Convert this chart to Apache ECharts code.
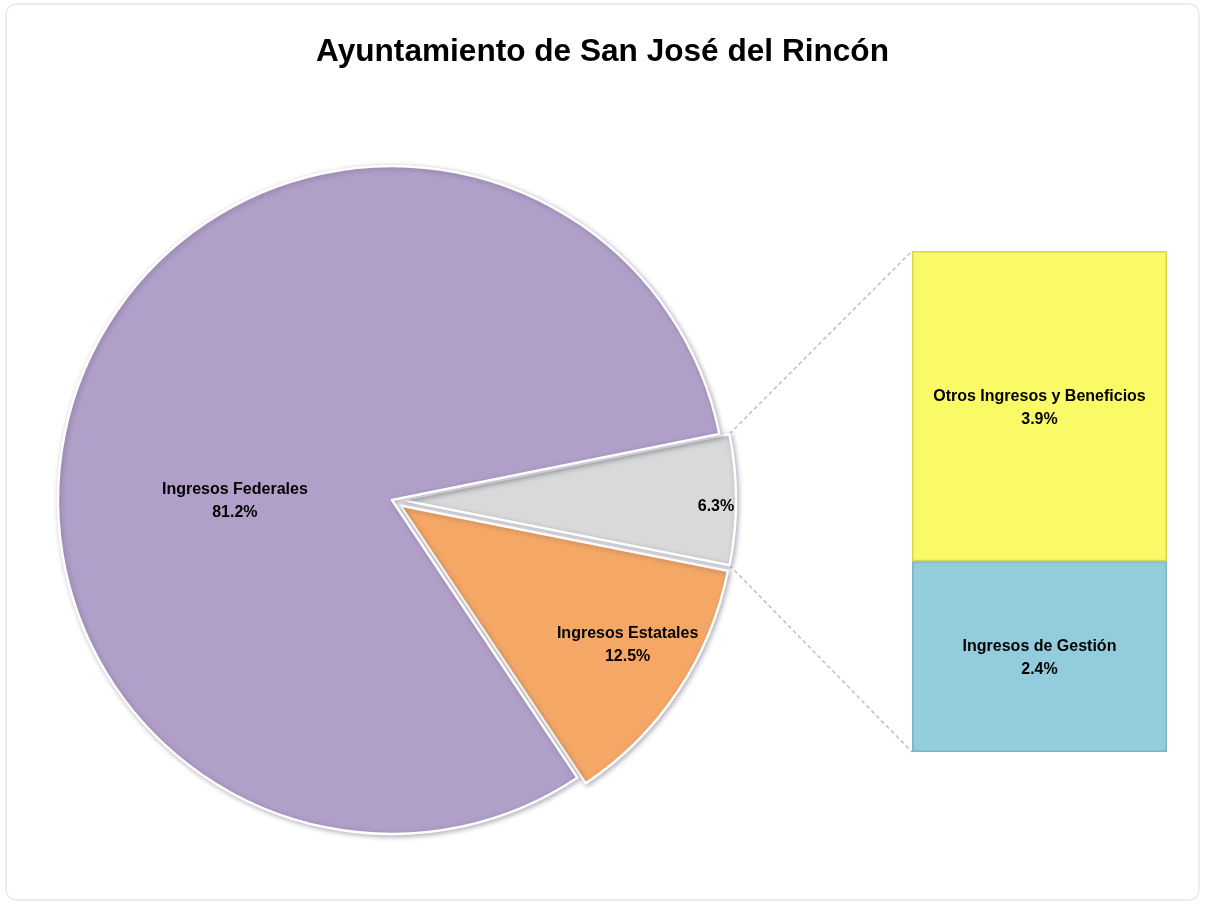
<!DOCTYPE html>
<html>
<head>
<meta charset="utf-8">
<script src="https://cdn.jsdelivr.net/npm/echarts@6/dist/echarts.min.js"></script>
<style>
  html, body { margin: 0; padding: 0; background: #ffffff; }
  #chart { width: 1205px; height: 905px; }
</style>
</head>
<body>
<div id="chart"></div>
<script>
// ---- Data ----
const chartTitle = 'Ayuntamiento de San José del Rincón';
const pieCategories = ['Ingresos Federales', 'Ingresos Estatales', 'Otros'];
const pieValues = [81.2, 12.5, 6.3];
const barCategories = ['Ingresos de Gestión', 'Otros Ingresos y Beneficios'];
const barValues = [2.4, 3.9];

// ---- Styles ----
const pieColors = ['#B09FC8', '#F5A866', '#D9D9D9'];
const barColors = ['#93CDDD', '#FAFA66'];
const barBorders = ['#7DB3C3', '#D6D650'];
const fontFamily = '"Liberation Sans", Arial, sans-serif';

const PIE_CENTER = [392, 500];
const PIE_R = 334;
const PIE_START = 11.4;
const SEL_OFFSET = 10;

// Clockwise drawing order: Otros, Estatales, Federales
const pieOrder = [2, 1, 0];
const labelShift = { 0: [0, 33], 1: [86, 45], 2: [144, 7] };

const pieData = pieOrder.map(function (i) {
  return {
    name: pieCategories[i],
    value: pieValues[i],
    selected: i !== 0,
    itemStyle: { color: pieColors[i] },
    origIndex: i
  };
});

const barTotal = barValues.reduce(function (a, b) { return a + b; }, 0);

const chart = echarts.init(document.getElementById('chart'), null, { renderer: 'canvas' });

const option = {
  animation: false,
  backgroundColor: '#ffffff',
  title: {
    text: chartTitle,
    left: 'center',
    top: 31,
    textStyle: { fontFamily: fontFamily, fontSize: 31.6, fontWeight: 'bold', color: '#000' }
  },
  grid: { left: 912, top: 251, width: 255, height: 501 },
  xAxis: { type: 'category', data: ['bar'], show: false },
  yAxis: { type: 'value', min: 0, max: barTotal, show: false },
  series: [
    {
      type: 'pie',
      center: PIE_CENTER,
      radius: PIE_R,
      startAngle: PIE_START,
      clockwise: true,
      selectedMode: 'multiple',
      selectedOffset: SEL_OFFSET,
      emphasis: { disabled: true, scale: false },
      avoidLabelOverlap: false,
      itemStyle: {
        borderColor: '#ffffff',
        borderWidth: 2.5,
        shadowBlur: 5,
        shadowOffsetX: 1.5,
        shadowOffsetY: 1.5,
        shadowColor: 'rgba(60,50,80,0.35)'
      },
      select: { itemStyle: { borderColor: '#ffffff', borderWidth: 2.5 } },
      label: {
        show: true,
        position: 'inside',
        fontFamily: fontFamily,
        fontSize: 16,
        fontWeight: 'bold',
        color: '#000',
        lineHeight: 23,
        formatter: function (p) {
          const v = p.value.toFixed(1) + '%';
          return p.data.origIndex === 2 ? v : p.name + '\n' + v;
        }
      },
      labelLine: { show: false },
      labelLayout: function (params) {
        const d = pieData[params.dataIndex];
        const s = labelShift[d.origIndex];
        return { dx: s[0], dy: s[1] };
      },
      data: pieData
    },
    {
      type: 'bar',
      name: barCategories[0],
      stack: 'rest',
      barWidth: '100%',
      data: [barValues[0]],
      itemStyle: { color: barColors[0], borderColor: barBorders[0], borderWidth: 1.5 },
      emphasis: { disabled: true },
      label: {
        show: true, position: 'inside', offset: [0, 2],
        fontFamily: fontFamily, fontSize: 16, fontWeight: 'bold', color: '#000', lineHeight: 23,
        formatter: function (p) { return barCategories[0] + '\n' + p.value.toFixed(1) + '%'; }
      }
    },
    {
      type: 'bar',
      name: barCategories[1],
      stack: 'rest',
      barWidth: '100%',
      data: [barValues[1]],
      itemStyle: { color: barColors[1], borderColor: barBorders[1], borderWidth: 1.5 },
      emphasis: { disabled: true },
      label: {
        show: true, position: 'inside', offset: [0, 2],
        fontFamily: fontFamily, fontSize: 16, fontWeight: 'bold', color: '#000', lineHeight: 23,
        formatter: function (p) { return barCategories[1] + '\n' + p.value.toFixed(1) + '%'; }
      }
    }
  ]
};

chart.setOption(option);

// ---- Connector lines (from the "Otros" slice to the bar) ----
(function () {
  let cx = PIE_CENTER[0], cy = PIE_CENTER[1], r = PIE_R;
  let a0 = -PIE_START * Math.PI / 180;
  let a1 = a0 + (pieValues[2] / pieValues.reduce(function (a, b) { return a + b; }, 0)) * 2 * Math.PI;
  try {
    const lay = chart.getModel().getSeriesByIndex(0).getData().getItemLayout(0);
    if (lay && isFinite(lay.cx)) {
      cx = lay.cx; cy = lay.cy; r = lay.r;
      if (isFinite(lay.startAngle) && isFinite(lay.endAngle)) { a0 = lay.startAngle; a1 = lay.endAngle; }
    }
  } catch (e) {}
  const mid = (a0 + a1) / 2;
  const ox = cx + SEL_OFFSET * Math.cos(mid), oy = cy + SEL_OFFSET * Math.sin(mid);
  const pTop = [ox + r * Math.cos(a0), oy + r * Math.sin(a0)];
  const pBot = [ox + r * Math.cos(a1), oy + r * Math.sin(a1)];
  const rect = chart.getModel().getComponent('grid', 0).coordinateSystem.getRect();
  const yTop = chart.convertToPixel({ yAxisIndex: 0 }, barTotal);
  const yBot = chart.convertToPixel({ yAxisIndex: 0 }, 0);
  const lineStyle = { stroke: '#BFBFBF', lineWidth: 1.5, lineDash: [4, 3] };
  chart.setOption({
    graphic: [
      { type: 'rect', silent: true, z: -10, shape: { x: 6, y: 4, width: 1193, height: 896, r: 10 },
        style: { fill: 'none', stroke: '#DADADA', lineWidth: 1 } },
      { type: 'line', silent: true, shape: { x1: pTop[0], y1: pTop[1], x2: rect.x, y2: yTop }, style: lineStyle },
      { type: 'line', silent: true, shape: { x1: pBot[0], y1: pBot[1], x2: rect.x, y2: yBot }, style: lineStyle }
    ]
  });
})();
</script>
</body>
</html>
